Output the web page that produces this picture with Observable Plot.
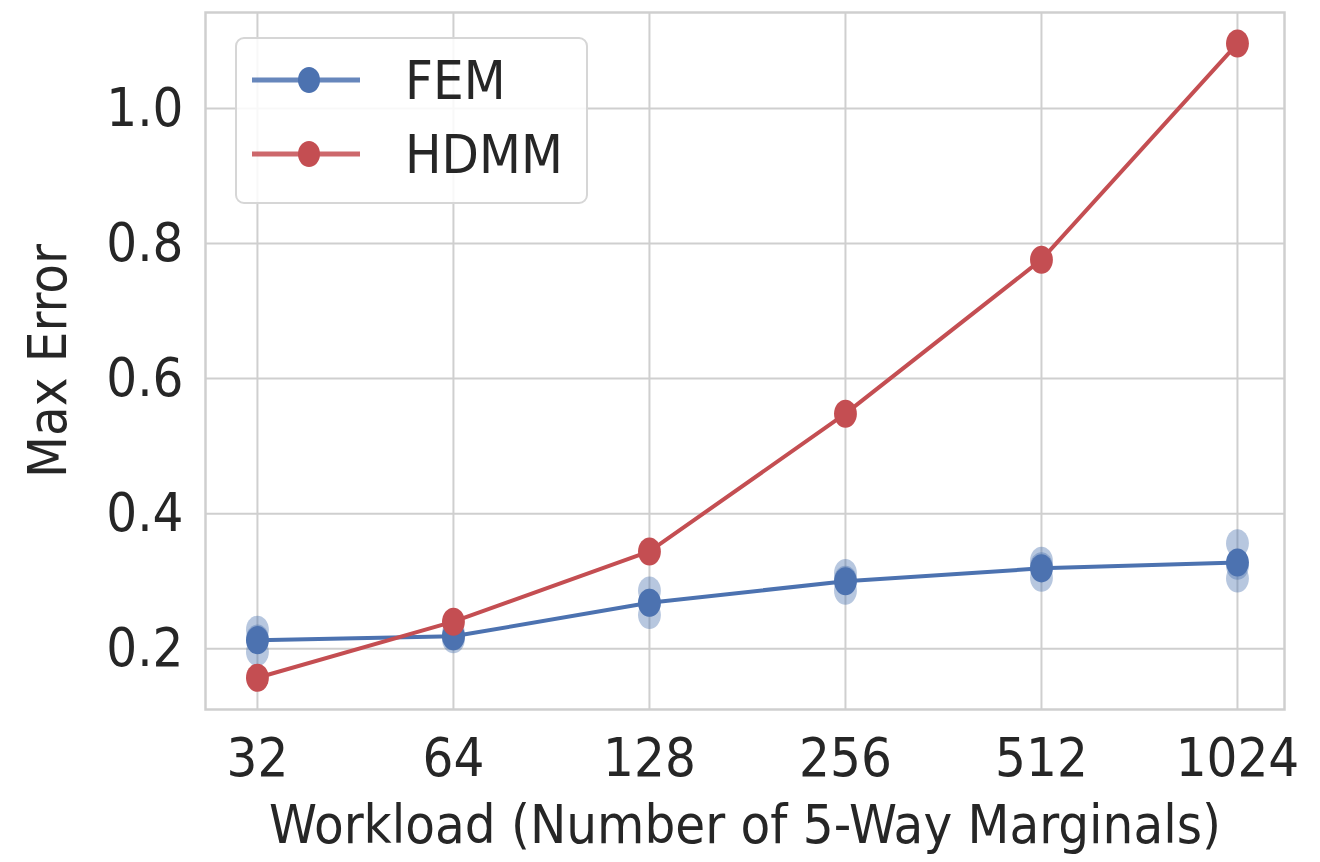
<!DOCTYPE html>
<html>
<head>
<meta charset="utf-8">
<script src="https://cdn.jsdelivr.net/npm/d3@7"></script>
<script src="https://cdn.jsdelivr.net/npm/@observablehq/plot@0.6"></script>
<style>
  html, body { margin: 0; padding: 0; background: #fff; }
  #wrap { position: relative; width: 1320px; height: 862px; overflow: hidden; }
  .legend { position: absolute; left: 235px; top: 37px; width: 349px; height: 163px;
    border: 2px solid #d6d6d6; border-radius: 9px; background: rgba(255,255,255,0.85);
    font-family: 'Liberation Sans Narrow', 'DejaVu Sans Condensed', sans-serif; font-size: 54px; color: #262626; }
  .legend .row { position: absolute; left: 0; height: 60px; display: flex; align-items: center; }
  .legend svg { margin-left: 13px; }
  .legend span { margin-left: 43px; }
</style>
</head>
<body>
<div id="wrap"></div>
<script>
// ---- data ----
const workloads = [32, 64, 128, 256, 512, 1024];
const femRun1 = [0.228, 0.223, 0.286, 0.312, 0.330, 0.356];
const femRun2 = [0.215, 0.218, 0.268, 0.302, 0.322, 0.323];
const femRun3 = [0.195, 0.214, 0.250, 0.286, 0.305, 0.304];
const hdmm    = [0.157, 0.240, 0.344, 0.548, 0.776, 1.096];
const seriesNames = ["FEM", "HDMM"];
const seriesColors = ["#4c72b0", "#c44e52"];
const yTicks = [0.2, 0.4, 0.6, 0.8, 1.0];

const fem = [];
[femRun1, femRun2, femRun3].forEach((run, r) =>
  run.forEach((v, i) => fem.push({workload: workloads[i], value: v, run: r})));
const hd = hdmm.map((v, i) => ({workload: workloads[i], value: v}));

// ellipse symbol (the reference is slightly stretched vertically)
const ellipse = {
  draw(ctx, size) {
    const r = Math.sqrt(size / Math.PI);
    const rx = r * 0.88, ry = r * 1.08, k = 0.5523;
    ctx.moveTo(rx, 0);
    ctx.bezierCurveTo(rx, ry * k, rx * k, ry, 0, ry);
    ctx.bezierCurveTo(-rx * k, ry, -rx, ry * k, -rx, 0);
    ctx.bezierCurveTo(-rx, -ry * k, -rx * k, -ry, 0, -ry);
    ctx.bezierCurveTo(rx * k, -ry, rx, -ry * k, rx, 0);
    ctx.closePath();
  }
};

const font = "'Liberation Sans Narrow', 'DejaVu Sans Condensed', sans-serif";

const chart = Plot.plot({
  width: 1320,
  height: 862,
  marginLeft: 205,
  marginRight: 36,
  marginTop: 12,
  marginBottom: 153,
  style: {fontFamily: font, fontSize: "54px", color: "#262626", background: "#fff"},
  x: {type: "log", base: 2, domain: [Math.pow(2, 4.735), Math.pow(2, 10.24)]},
  y: {domain: [0.110, 1.142]},
  marks: [
    Plot.gridX(workloads, {stroke: "#cfcfcf", strokeOpacity: 1, strokeWidth: 2}),
    Plot.gridY(yTicks, {stroke: "#cfcfcf", strokeOpacity: 1, strokeWidth: 2}),
    Plot.frame({stroke: "#cfcfcf", strokeWidth: 2.5}),
    Plot.axisX(workloads, {tickSize: 0, tickPadding: 28, tickFormat: d => String(d),
      label: "Workload (Number of 5-Way Marginals)", labelAnchor: "center", labelArrow: "none", labelOffset: 133}),
    Plot.axisY(yTicks, {tickSize: 0, tickPadding: 22, tickFormat: d3.format(".1f"),
      label: "Max Error", labelAnchor: "center", labelArrow: "none", labelOffset: 178}),
    Plot.dot(fem, {x: "workload", y: "value", r: 13, symbol: ellipse, fill: seriesColors[0], fillOpacity: 0.4, stroke: "none"}),
    Plot.line(fem, Plot.groupX({y: "mean"}, {x: "workload", y: "value", stroke: seriesColors[0], strokeWidth: 4})),
    Plot.dot(fem, Plot.groupX({y: "mean"}, {x: "workload", y: "value", r: 13, symbol: ellipse, fill: seriesColors[0]})),
    Plot.line(hd, {x: "workload", y: "value", stroke: seriesColors[1], strokeWidth: 4}),
    Plot.dot(hd, {x: "workload", y: "value", r: 13, symbol: ellipse, fill: seriesColors[1]})
  ]
});

const wrap = document.getElementById("wrap");
wrap.appendChild(chart);

// legend
const legend = document.createElement("div");
legend.className = "legend";
seriesNames.forEach((name, i) => {
  const row = document.createElement("div");
  row.className = "row";
  row.style.top = (11 + i * 74) + "px";
  row.innerHTML = `<svg width="112" height="30"><line x1="2" x2="110" y1="15" y2="15" stroke="${seriesColors[i]}" stroke-width="5" stroke-opacity="0.85"/><ellipse cx="59" cy="15" rx="11" ry="13" fill="${seriesColors[i]}"/></svg><span>${name}</span>`;
  legend.appendChild(row);
});
wrap.appendChild(legend);
</script>
</body>
</html>
